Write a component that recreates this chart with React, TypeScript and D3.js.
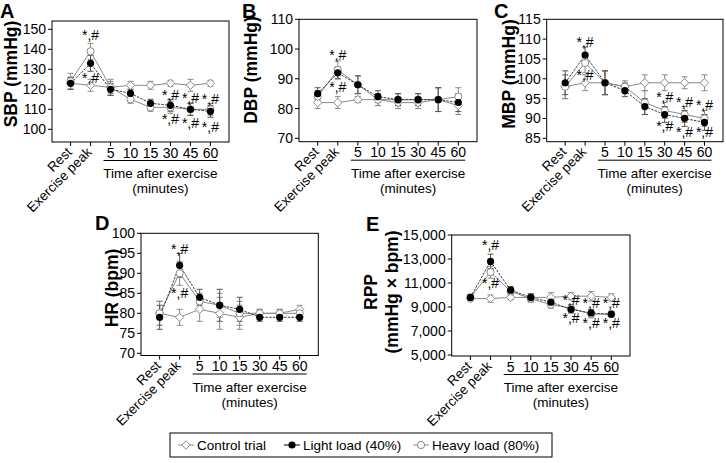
import React from "react";
import * as d3 from "d3";

const categories = ["Rest", "Exercise peak", "5", "10", "15", "30", "45", "60"];
const rotatedCats = ["Rest", "Exercise peak"];
const numericCats = ["5", "10", "15", "30", "45", "60"];
const seriesNames = ["Control trial", "Light load (40%)", "Heavy load (80%)"];

// A: SBP
const sbpControl = [123, 122, 121, 122, 122, 123, 122, 123];
const sbpControlErr = [3, 3, 3, 2, 2, 1.5, 3, 1.5];
const sbpLight = [123, 133, 120, 118, 113, 112, 110, 109];
const sbpLightErr = [3, 4, 3, 2, 2, 3, 3, 3];
const sbpHeavy = [124, 139, 121, 115, 111, 111, 110, 110];
const sbpHeavyErr = [4, 4, 4, 2, 2, 3, 3, 3];
const sbpTicks = [100, 110, 120, 130, 140, 150];
const sbpAnnot = [
  { cat: "Exercise peak", v: 147 }, { cat: "Exercise peak", v: 125.5 },
  { cat: "30", v: 117 }, { cat: "30", v: 105.3 },
  { cat: "45", v: 115.5 }, { cat: "45", v: 103 },
  { cat: "60", v: 115 }, { cat: "60", v: 101.3 },
];

// B: DBP
const dbpControl = [82, 82, 83, 83, 82, 82, 83, 81];
const dbpControlErr = [2, 2, 1, 2, 2, 2, 4, 3];
const dbpLight = [85, 92, 88, 84, 83, 83, 83, 82];
const dbpLightErr = [2, 2, 3, 2, 2, 2, 4, 3];
const dbpHeavy = [84, 93, 88, 83, 83, 83, 83, 84];
const dbpHeavyErr = [2, 3, 3, 2, 2, 2, 4, 3];
const dbpTicks = [70, 80, 90, 100, 110];
const dbpAnnot = [{ cat: "Exercise peak", v: 98 }, { cat: "Exercise peak", v: 87.1 }];

// C: MBP
const mbpControl = [98, 99, 99, 98, 99, 99, 99, 99];
const mbpControlErr = [3, 2, 3, 1.5, 2, 2, 1.5, 2];
const mbpLight = [99, 106, 99, 97, 93, 91, 90, 89];
const mbpLightErr = [3, 2, 3, 1.5, 2, 2, 2, 2];
const mbpHeavy = [98, 104, 99, 98, 94, 92, 91, 90];
const mbpHeavyErr = [3, 2.5, 3, 1, 3, 2, 2, 2];
const mbpTicks = [85, 90, 95, 100, 105, 110, 115];
const mbpAnnot = [
  { cat: "Exercise peak", v: 109.4 }, { cat: "Exercise peak", v: 101 },
  { cat: "30", v: 95.3 }, { cat: "30", v: 88 },
  { cat: "45", v: 94.2 }, { cat: "45", v: 86.7 },
  { cat: "60", v: 93.4 }, { cat: "60", v: 86.6 },
];

// D: HR
const hrControl = [80, 79, 81, 80, 79, 80, 80, 81];
const hrControlErr = [3, 2, 3, 4, 3, 1, 1, 1];
const hrLight = [79, 92, 84, 82, 81, 79, 79, 79];
const hrLightErr = [3, 3, 2, 4, 3, 1, 1, 1];
const hrHeavy = [80, 90, 83, 82, 80, 80, 80, 80];
const hrHeavyErr = [3, 3, 2, 3, 3, 1, 1, 1];
const hrTicks = [70, 75, 80, 85, 90, 95, 100];
const hrAnnot = [{ cat: "Exercise peak", v: 96 }, { cat: "Exercise peak", v: 85 }];

// E: RPP
const rppControl = [9700, 9700, 9800, 9800, 9800, 9900, 9900, 9800];
const rppControlErr = [200, 300, 200, 300, 400, 300, 400, 300];
const rppLight = [9800, 12800, 10400, 9800, 9400, 8800, 8500, 8400];
const rppLightErr = [200, 600, 300, 300, 300, 300, 300, 200];
const rppHeavy = [9800, 11900, 10300, 9700, 9200, 8900, 8400, 8400];
const rppHeavyErr = [200, 500, 300, 300, 300, 300, 300, 200];
const rppTicks = [5000, 7000, 9000, 11000, 13000, 15000];
const rppAnnot = [
  { cat: "Exercise peak", v: 14170 }, { cat: "Exercise peak", v: 11000 },
  { cat: "30", v: 9580 }, { cat: "30", v: 8060 },
  { cat: "45", v: 9300 }, { cat: "45", v: 7640 },
  { cat: "60", v: 9300 }, { cat: "60", v: 7700 },
];

const FONT = "Arial, 'Liberation Sans', Helvetica, sans-serif";
const GRAY = "#8a8a8a";

type Annot = { cat: string; v: number };
type Panel = {
  letter: string; letterX: number; letterY: number;
  title: string[]; titleX: number[]; titleY: number;
  left: number; right: number; top: number; bottom: number;
  yDomain: [number, number]; ticks: number[]; fmt: (v: number) => string;
  control: number[]; controlErr: number[];
  light: number[]; lightErr: number[];
  heavy: number[]; heavyErr: number[];
  annots: Annot[];
};

const plain = (v: number) => String(v);
const comma = d3.format(",");

const panels: Panel[] = [
  { letter: "A", letterX: 0, letterY: 18, title: ["SBP (mmHg)"], titleX: [17], titleY: 74,
    left: 52, right: 229, top: 21, bottom: 142, yDomain: [93.65, 154.15], ticks: sbpTicks, fmt: plain,
    control: sbpControl, controlErr: sbpControlErr, light: sbpLight, lightErr: sbpLightErr,
    heavy: sbpHeavy, heavyErr: sbpHeavyErr, annots: sbpAnnot },
  { letter: "B", letterX: 242, letterY: 18, title: ["DBP (mmHg)"], titleX: [257], titleY: 70,
    left: 299, right: 477, top: 19.3, bottom: 141.7, yDomain: [68.86, 110], ticks: dbpTicks, fmt: plain,
    control: dbpControl, controlErr: dbpControlErr, light: dbpLight, lightErr: dbpLightErr,
    heavy: dbpHeavy, heavyErr: dbpHeavyErr, annots: dbpAnnot },
  { letter: "C", letterX: 494, letterY: 18, title: ["MBP (mmHg)"], titleX: [515], titleY: 74,
    left: 546.7, right: 723, top: 19.3, bottom: 141.7, yDomain: [84.14, 115], ticks: mbpTicks, fmt: plain,
    control: mbpControl, controlErr: mbpControlErr, light: mbpLight, lightErr: mbpLightErr,
    heavy: mbpHeavy, heavyErr: mbpHeavyErr, annots: mbpAnnot },
  { letter: "D", letterX: 95, letterY: 230, title: ["HR (bpm)"], titleX: [118], titleY: 288,
    left: 141, right: 318.3, top: 233.3, bottom: 355.5, yDomain: [69.45, 100], ticks: hrTicks, fmt: plain,
    control: hrControl, controlErr: hrControlErr, light: hrLight, lightErr: hrLightErr,
    heavy: hrHeavy, heavyErr: hrHeavyErr, annots: hrAnnot },
  { letter: "E", letterX: 366, letterY: 231, title: ["RPP", "(mmHg × bpm)"], titleX: [377, 398], titleY: 292,
    left: 451.7, right: 630, top: 235, bottom: 356, yDomain: [4917, 15000], ticks: rppTicks, fmt: comma,
    control: rppControl, controlErr: rppControlErr, light: rppLight, lightErr: rppLightErr,
    heavy: rppHeavy, heavyErr: rppHeavyErr, annots: rppAnnot },
];

const diamondPath = (cx: number, cy: number, r = 4.2) =>
  `M${cx - r},${cy} L${cx},${cy - r} L${cx + r},${cy} L${cx},${cy + r} Z`;

function ErrBars({ x, y, vals, errs, color }: any) {
  return (
    <g stroke={color} strokeWidth={1} fill="none">
      {vals.map((v: number, i: number) => {
        const cx = x(categories[i])!;
        const y1 = y(v + errs[i]);
        const y2 = y(v - errs[i]);
        return (
          <g key={i}>
            <line x1={cx} x2={cx} y1={y1} y2={y2} />
            <line x1={cx - 3} x2={cx + 3} y1={y1} y2={y1} />
            <line x1={cx - 3} x2={cx + 3} y1={y2} y2={y2} />
          </g>
        );
      })}
    </g>
  );
}

function PanelView({ p }: { p: Panel }) {
  const x = d3.scalePoint<string>().domain(categories).range([p.left, p.right]).padding(0.93);
  const y = d3.scaleLinear().domain(p.yDomain).range([p.bottom, p.top]);
  const line = (vals: number[]) =>
    d3.line<number>().x((_, i) => x(categories[i])!).y((v) => y(v))(vals) || "";
  const x5 = x(numericCats[0])!;
  const x60 = x(numericCats[numericCats.length - 1])!;
  const midNum = (x5 + x60) / 2;
  return (
    <g fontFamily={FONT}>
      <text x={p.letterX} y={p.letterY} fontSize={20} fontWeight="bold">{p.letter}</text>
      {p.title.map((t, i) => (
        <text key={i} transform={`translate(${p.titleX[i]},${p.titleY}) rotate(-90)`} textAnchor="middle"
          fontSize={17.5} fontWeight="bold">{t}</text>
      ))}
      <rect x={p.left} y={p.top} width={p.right - p.left} height={p.bottom - p.top} fill="none" stroke="#000" strokeWidth={1} />
      {p.ticks.map((t) => (
        <g key={t}>
          <line x1={p.left - 4} x2={p.left} y1={y(t)} y2={y(t)} stroke="#000" />
          <text x={p.left - 6} y={y(t)} dy="0.36em" textAnchor="end" fontSize={14}>{p.fmt(t)}</text>
        </g>
      ))}
      {categories.map((c) => (
        <line key={c} x1={x(c)} x2={x(c)} y1={p.bottom} y2={p.bottom + 4} stroke="#000" />
      ))}
      {rotatedCats.map((c) => (
        <text key={c} transform={`translate(${x(c)! + 2},${p.bottom + 11}) rotate(-45)`} textAnchor="end" fontSize={13.5}>{c}</text>
      ))}
      {numericCats.map((c) => (
        <text key={c} x={x(c)} y={p.bottom + 15.5} textAnchor="middle" fontSize={14}>{c}</text>
      ))}
      <line x1={x5 - 7} x2={x60 + 7} y1={p.bottom + 18.5} y2={p.bottom + 18.5} stroke="#000" />
      <text x={midNum} y={p.bottom + 36} textAnchor="middle" fontSize={13.5}>Time after exercise</text>
      <text x={midNum} y={p.bottom + 51} textAnchor="middle" fontSize={13.5}>(minutes)</text>
      <ErrBars x={x} y={y} vals={p.control} errs={p.controlErr} color={GRAY} />
      <ErrBars x={x} y={y} vals={p.heavy} errs={p.heavyErr} color={GRAY} />
      <ErrBars x={x} y={y} vals={p.light} errs={p.lightErr} color="#555" />
      <path d={line(p.control)} fill="none" stroke={GRAY} strokeWidth={1} />
      <path d={line(p.heavy)} fill="none" stroke={GRAY} strokeWidth={1} />
      <path d={line(p.light)} fill="none" stroke="#222" strokeWidth={0.9} strokeDasharray="2.5,1.2" />
      {p.control.map((v, i) => (
        <path key={"c" + i} d={diamondPath(x(categories[i])!, y(v))} fill="#fff" stroke={GRAY} strokeWidth={1} />
      ))}
      {p.heavy.map((v, i) => (
        <circle key={"h" + i} cx={x(categories[i])} cy={y(v)} r={3.6} fill="#fff" stroke={GRAY} strokeWidth={1} />
      ))}
      {p.light.map((v, i) => (
        <circle key={"l" + i} cx={x(categories[i])} cy={y(v)} r={3.6} fill="#000" />
      ))}
      {p.annots.map((a, i) => (
        <text key={"a" + i} x={x(a.cat)} y={y(a.v)} dy="0.36em" textAnchor="middle" fontSize={14}>*,#</text>
      ))}
    </g>
  );
}

function Legend() {
  const top = 433, h = 24, left = 170, right = 552;
  const cy = top + h / 2;
  const items = [
    { name: seriesNames[0], mx: 186, kind: "control" },
    { name: seriesNames[1], mx: 292, kind: "light" },
    { name: seriesNames[2], mx: 421, kind: "heavy" },
  ];
  return (
    <g fontFamily={FONT}>
      <rect x={left} y={top} width={right - left} height={h} fill="#fff" stroke="#000" strokeWidth={1} />
      {items.map((it) => (
        <g key={it.name}>
          <line x1={it.mx - 8} x2={it.mx + 8} y1={cy} y2={cy} stroke={it.kind === "light" ? "#000" : GRAY} />
          {it.kind === "control" && <path d={diamondPath(it.mx, cy)} fill="#fff" stroke={GRAY} />}
          {it.kind === "heavy" && <circle cx={it.mx} cy={cy} r={3.6} fill="#fff" stroke={GRAY} />}
          {it.kind === "light" && <circle cx={it.mx} cy={cy} r={3.6} fill="#000" />}
          <text x={it.mx + 11} y={cy} dy="0.36em" fontSize={13.5}>{it.name}</text>
        </g>
      ))}
    </g>
  );
}

export default function App() {
  return (
    <svg width={726} height={463} style={{ position: "absolute", left: 0, top: 0, background: "#fff" }}>
      <rect width={726} height={463} fill="#fff" />
      {panels.map((p) => <PanelView key={p.letter} p={p} />)}
      <Legend />
    </svg>
  );
}
